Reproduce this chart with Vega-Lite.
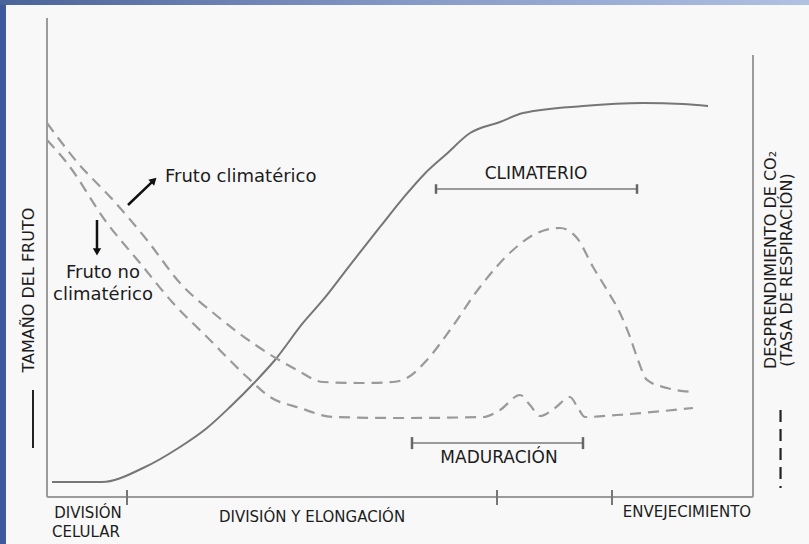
{
  "$schema": "https://vega.github.io/schema/vega-lite/v6.json",
  "width": 706,
  "height": 479,
  "autosize": {"type": "none"},
  "padding": {"left": 47, "top": 18, "right": 56, "bottom": 47},
  "background": "#f8f8f8",
  "config": {
    "view": {"stroke": null},
    "font": "DejaVu Sans",
    "text": {"font": "DejaVu Sans", "color": "#1c1c1c", "baseline": "middle", "align": "center"}
  },
  "data": {"values": [{"item": "annotation"}]},
  "datasets": {
    "curves": [
      {"series": "Tamaño del fruto", "t": 0.71, "v": 3.13},
      {"series": "Tamaño del fruto", "t": 7.79, "v": 3.13},
      {"series": "Tamaño del fruto", "t": 13.6, "v": 6.05},
      {"series": "Tamaño del fruto", "t": 18.84, "v": 10.44},
      {"series": "Tamaño del fruto", "t": 22.66, "v": 14.41},
      {"series": "Tamaño del fruto", "t": 25.92, "v": 18.79},
      {"series": "Tamaño del fruto", "t": 29.46, "v": 24.01},
      {"series": "Tamaño del fruto", "t": 32.29, "v": 28.6},
      {"series": "Tamaño del fruto", "t": 36.26, "v": 36.33},
      {"series": "Tamaño del fruto", "t": 39.09, "v": 41.13},
      {"series": "Tamaño del fruto", "t": 42.92, "v": 48.43},
      {"series": "Tamaño del fruto", "t": 47.17, "v": 56.37},
      {"series": "Tamaño del fruto", "t": 50.5, "v": 62.5},
      {"series": "Tamaño del fruto", "t": 53.5, "v": 67.5},
      {"series": "Tamaño del fruto", "t": 56.5, "v": 71.5},
      {"series": "Tamaño del fruto", "t": 59.92, "v": 75.99},
      {"series": "Tamaño del fruto", "t": 64.16, "v": 78.29},
      {"series": "Tamaño del fruto", "t": 67.42, "v": 80.17},
      {"series": "Tamaño del fruto", "t": 75.92, "v": 81.63},
      {"series": "Tamaño del fruto", "t": 84.42, "v": 82.25},
      {"series": "Tamaño del fruto", "t": 90.08, "v": 82.05},
      {"series": "Tamaño del fruto", "t": 93.63, "v": 81.63},
      {"series": "Fruto climatérico", "t": 0, "v": 78.08},
      {"series": "Fruto climatérico", "t": 4.25, "v": 69.94},
      {"series": "Fruto climatérico", "t": 9.35, "v": 62.0},
      {"series": "Fruto climatérico", "t": 14.16, "v": 53.65},
      {"series": "Fruto climatérico", "t": 18.84, "v": 44.68},
      {"series": "Fruto climatérico", "t": 24.08, "v": 37.79},
      {"series": "Fruto climatérico", "t": 29.75, "v": 31.52},
      {"series": "Fruto climatérico", "t": 35.41, "v": 26.51},
      {"series": "Fruto climatérico", "t": 39.09, "v": 24.01},
      {"series": "Fruto climatérico", "t": 44.33, "v": 23.8},
      {"series": "Fruto climatérico", "t": 49.01, "v": 24.01},
      {"series": "Fruto climatérico", "t": 50.99, "v": 24.84},
      {"series": "Fruto climatérico", "t": 53.82, "v": 28.6},
      {"series": "Fruto climatérico", "t": 57.08, "v": 34.86},
      {"series": "Fruto climatérico", "t": 61.33, "v": 43.84},
      {"series": "Fruto climatérico", "t": 66.01, "v": 51.57},
      {"series": "Fruto climatérico", "t": 69.41, "v": 55.11},
      {"series": "Fruto climatérico", "t": 72.66, "v": 56.16},
      {"series": "Fruto climatérico", "t": 75.07, "v": 54.07},
      {"series": "Fruto climatérico", "t": 77.34, "v": 48.02},
      {"series": "Fruto climatérico", "t": 79.32, "v": 43.22},
      {"series": "Fruto climatérico", "t": 81.16, "v": 38.41},
      {"series": "Fruto climatérico", "t": 82.58, "v": 33.4},
      {"series": "Fruto climatérico", "t": 83.71, "v": 28.6},
      {"series": "Fruto climatérico", "t": 84.99, "v": 24.43},
      {"series": "Fruto climatérico", "t": 87.82, "v": 22.76},
      {"series": "Fruto climatérico", "t": 91.5, "v": 21.92},
      {"series": "Fruto no climatérico", "t": 0, "v": 74.53},
      {"series": "Fruto no climatérico", "t": 2.83, "v": 69.73},
      {"series": "Fruto no climatérico", "t": 8.5, "v": 57.2},
      {"series": "Fruto no climatérico", "t": 13.17, "v": 48.85},
      {"series": "Fruto no climatérico", "t": 17.85, "v": 40.5},
      {"series": "Fruto no climatérico", "t": 22.66, "v": 33.4},
      {"series": "Fruto no climatérico", "t": 28.33, "v": 25.05},
      {"series": "Fruto no climatérico", "t": 31.59, "v": 20.88},
      {"series": "Fruto no climatérico", "t": 35.84, "v": 18.58},
      {"series": "Fruto no climatérico", "t": 40.51, "v": 16.7},
      {"series": "Fruto no climatérico", "t": 50.0, "v": 16.49},
      {"series": "Fruto no climatérico", "t": 61.76, "v": 16.7},
      {"series": "Fruto no climatérico", "t": 64.16, "v": 18.16},
      {"series": "Fruto no climatérico", "t": 67.0, "v": 21.29},
      {"series": "Fruto no climatérico", "t": 68.41, "v": 19.21},
      {"series": "Fruto no climatérico", "t": 69.83, "v": 16.91},
      {"series": "Fruto no climatérico", "t": 71.95, "v": 18.58},
      {"series": "Fruto no climatérico", "t": 74.08, "v": 20.88},
      {"series": "Fruto no climatérico", "t": 75.21, "v": 18.58},
      {"series": "Fruto no climatérico", "t": 76.2, "v": 16.7},
      {"series": "Fruto no climatérico", "t": 80.74, "v": 17.12},
      {"series": "Fruto no climatérico", "t": 91.5, "v": 18.58}
    ],
    "stages": [
      {"boundary": 11.33},
      {"boundary": 63.74},
      {"boundary": 80.03}
    ]
  },
  "layer": [
    {
      "mark": {"type": "rect", "color": "#40599a"},
      "encoding": {
        "x": {"datum": -6.66, "type": "quantitative", "scale": {"domain": [0, 100], "nice": false, "zero": false}, "axis": null},
        "x2": {"datum": -5.81},
        "y": {"datum": 103.8, "type": "quantitative", "scale": {"domain": [0, 100], "nice": false, "zero": false}, "axis": null},
        "y2": {"datum": -9.9}
      }
    },
    {
      "mark": {"type": "rect", "color": {"gradient": "linear", "x1": 0, "y1": 0, "x2": 1, "y2": 0, "stops": [{"offset": 0, "color": "#4a6399"}, {"offset": 0.5, "color": "#8599c6"}, {"offset": 1, "color": "#b0c1e2"}]}},
      "encoding": {
        "x": {"datum": -6.66, "type": "quantitative", "scale": {"domain": [0, 100], "nice": false, "zero": false}, "axis": null},
        "x2": {"datum": 107.95},
        "y": {"datum": 103.8, "type": "quantitative", "scale": {"domain": [0, 100], "nice": false, "zero": false}, "axis": null},
        "y2": {"datum": 102.71}
      }
    },
    {
      "data": {"name": "curves"},
      "transform": [{"filter": "datum.series === 'Tamaño del fruto'"}],
      "mark": {"type": "line", "interpolate": "monotone", "color": "#767676", "strokeWidth": 2},
      "encoding": {
        "x": {"field": "t", "type": "quantitative", "scale": {"domain": [0, 100], "nice": false, "zero": false}, "axis": null},
        "y": {"field": "v", "type": "quantitative", "scale": {"domain": [0, 100], "nice": false, "zero": false}, "axis": null}
      }
    },
    {
      "data": {"name": "curves"},
      "transform": [{"filter": "datum.series !== 'Tamaño del fruto'"}],
      "mark": {"type": "line", "interpolate": "monotone", "color": "#9a9a9a", "strokeWidth": 2.2, "strokeDash": [11, 7]},
      "encoding": {
        "x": {"field": "t", "type": "quantitative", "scale": {"domain": [0, 100], "nice": false, "zero": false}, "axis": null},
        "y": {"field": "v", "type": "quantitative", "scale": {"domain": [0, 100], "nice": false, "zero": false}, "axis": null},
        "detail": {"field": "series"}
      }
    },
    {
      "mark": {"type": "rule", "color": "#9b9b9b", "strokeWidth": 2},
      "encoding": {
        "x": {"datum": 0, "type": "quantitative", "scale": {"domain": [0, 100], "nice": false, "zero": false}, "axis": null},
        "y": {"datum": 0, "type": "quantitative", "scale": {"domain": [0, 100], "nice": false, "zero": false}, "axis": null},
        "y2": {"datum": 100}
      }
    },
    {
      "mark": {"type": "rule", "color": "#9b9b9b", "strokeWidth": 2},
      "encoding": {
        "x": {"datum": 0, "type": "quantitative", "scale": {"domain": [0, 100], "nice": false, "zero": false}, "axis": null},
        "x2": {"datum": 100},
        "y": {"datum": 0, "type": "quantitative", "scale": {"domain": [0, 100], "nice": false, "zero": false}, "axis": null}
      }
    },
    {
      "mark": {"type": "rule", "color": "#9b9b9b", "strokeWidth": 2},
      "encoding": {
        "x": {"datum": 100, "type": "quantitative", "scale": {"domain": [0, 100], "nice": false, "zero": false}, "axis": null},
        "y": {"datum": 0, "type": "quantitative", "scale": {"domain": [0, 100], "nice": false, "zero": false}, "axis": null},
        "y2": {"datum": 92.28}
      }
    },
    {
      "data": {"name": "stages"},
      "mark": {"type": "rule", "color": "#777777", "strokeWidth": 2},
      "encoding": {
        "x": {"field": "boundary", "type": "quantitative", "scale": {"domain": [0, 100], "nice": false, "zero": false}, "axis": null},
        "y": {"datum": -1.67, "type": "quantitative", "scale": {"domain": [0, 100], "nice": false, "zero": false}, "axis": null},
        "y2": {"datum": 1.46}
      }
    },
    {
      "mark": {"type": "rule", "color": "#9a9a9a", "strokeWidth": 2},
      "encoding": {
        "x": {"datum": 55.1, "type": "quantitative", "scale": {"domain": [0, 100], "nice": false, "zero": false}, "axis": null},
        "x2": {"datum": 83.57},
        "y": {"datum": 64.3, "type": "quantitative", "scale": {"domain": [0, 100], "nice": false, "zero": false}, "axis": null}
      }
    },
    {
      "mark": {"type": "rule", "color": "#666666", "strokeWidth": 2.5},
      "encoding": {
        "x": {"datum": 55.1, "type": "quantitative", "scale": {"domain": [0, 100], "nice": false, "zero": false}, "axis": null},
        "y": {"datum": 63.3, "type": "quantitative", "scale": {"domain": [0, 100], "nice": false, "zero": false}, "axis": null},
        "y2": {"datum": 65.3}
      }
    },
    {
      "mark": {"type": "rule", "color": "#666666", "strokeWidth": 2.5},
      "encoding": {
        "x": {"datum": 83.57, "type": "quantitative", "scale": {"domain": [0, 100], "nice": false, "zero": false}, "axis": null},
        "y": {"datum": 63.3, "type": "quantitative", "scale": {"domain": [0, 100], "nice": false, "zero": false}, "axis": null},
        "y2": {"datum": 65.3}
      }
    },
    {
      "mark": {"type": "rule", "color": "#9a9a9a", "strokeWidth": 2},
      "encoding": {
        "x": {"datum": 51.7, "type": "quantitative", "scale": {"domain": [0, 100], "nice": false, "zero": false}, "axis": null},
        "x2": {"datum": 75.92},
        "y": {"datum": 11.27, "type": "quantitative", "scale": {"domain": [0, 100], "nice": false, "zero": false}, "axis": null}
      }
    },
    {
      "mark": {"type": "rule", "color": "#666666", "strokeWidth": 2.5},
      "encoding": {
        "x": {"datum": 51.7, "type": "quantitative", "scale": {"domain": [0, 100], "nice": false, "zero": false}, "axis": null},
        "y": {"datum": 10.0, "type": "quantitative", "scale": {"domain": [0, 100], "nice": false, "zero": false}, "axis": null},
        "y2": {"datum": 12.5}
      }
    },
    {
      "mark": {"type": "rule", "color": "#666666", "strokeWidth": 2.5},
      "encoding": {
        "x": {"datum": 75.92, "type": "quantitative", "scale": {"domain": [0, 100], "nice": false, "zero": false}, "axis": null},
        "y": {"datum": 10.0, "type": "quantitative", "scale": {"domain": [0, 100], "nice": false, "zero": false}, "axis": null},
        "y2": {"datum": 12.5}
      }
    },
    {
      "mark": {"type": "rule", "color": "#111111", "strokeWidth": 2.5},
      "encoding": {
        "x": {"datum": 11.47, "type": "quantitative", "scale": {"domain": [0, 100], "nice": false, "zero": false}, "axis": null},
        "x2": {"datum": 14.9},
        "y": {"datum": 60.96, "type": "quantitative", "scale": {"domain": [0, 100], "nice": false, "zero": false}, "axis": null},
        "y2": {"datum": 65.8}
      }
    },
    {
      "mark": {"type": "point", "shape": "triangle", "filled": true, "color": "#111111", "size": 70, "angle": 46, "opacity": 1},
      "encoding": {
        "x": {"datum": 15.01, "type": "quantitative", "scale": {"domain": [0, 100], "nice": false, "zero": false}, "axis": null},
        "y": {"datum": 65.97, "type": "quantitative", "scale": {"domain": [0, 100], "nice": false, "zero": false}, "axis": null}
      }
    },
    {
      "mark": {"type": "rule", "color": "#111111", "strokeWidth": 2.5},
      "encoding": {
        "x": {"datum": 7.08, "type": "quantitative", "scale": {"domain": [0, 100], "nice": false, "zero": false}, "axis": null},
        "y": {"datum": 57.83, "type": "quantitative", "scale": {"domain": [0, 100], "nice": false, "zero": false}, "axis": null},
        "y2": {"datum": 51.6}
      }
    },
    {
      "mark": {"type": "point", "shape": "triangle-down", "filled": true, "color": "#111111", "size": 70, "opacity": 1},
      "encoding": {
        "x": {"datum": 7.08, "type": "quantitative", "scale": {"domain": [0, 100], "nice": false, "zero": false}, "axis": null},
        "y": {"datum": 51.15, "type": "quantitative", "scale": {"domain": [0, 100], "nice": false, "zero": false}, "axis": null}
      }
    },
    {
      "mark": {"type": "rule", "color": "#222222", "strokeWidth": 2},
      "encoding": {
        "x": {"datum": -1.98, "type": "quantitative", "scale": {"domain": [0, 100], "nice": false, "zero": false}, "axis": null},
        "y": {"datum": 22.34, "type": "quantitative", "scale": {"domain": [0, 100], "nice": false, "zero": false}, "axis": null},
        "y2": {"datum": 10.23}
      }
    },
    {
      "mark": {"type": "rule", "color": "#222222", "strokeWidth": 2.2, "strokeDash": [12, 7]},
      "encoding": {
        "x": {"datum": 103.9, "type": "quantitative", "scale": {"domain": [0, 100], "nice": false, "zero": false}, "axis": null},
        "y": {"datum": 18.16, "type": "quantitative", "scale": {"domain": [0, 100], "nice": false, "zero": false}, "axis": null},
        "y2": {"datum": 1.88}
      }
    },
    {
      "mark": {"type": "text", "text": "TAMAÑO DEL FRUTO", "fontSize": 16, "angle": 270},
      "encoding": {
        "x": {"datum": -2.55, "type": "quantitative", "scale": {"domain": [0, 100], "nice": false, "zero": false}, "axis": null},
        "y": {"datum": 43.2, "type": "quantitative", "scale": {"domain": [0, 100], "nice": false, "zero": false}, "axis": null}
      }
    },
    {
      "mark": {"type": "text", "text": "DESPRENDIMIENTO DE CO₂", "fontSize": 16, "angle": 270},
      "encoding": {
        "x": {"datum": 102.55, "type": "quantitative", "scale": {"domain": [0, 100], "nice": false, "zero": false}, "axis": null},
        "y": {"datum": 49.48, "type": "quantitative", "scale": {"domain": [0, 100], "nice": false, "zero": false}, "axis": null}
      }
    },
    {
      "mark": {"type": "text", "text": "(TASA DE RESPIRACIÓN)", "fontSize": 16, "angle": 270},
      "encoding": {
        "x": {"datum": 104.82, "type": "quantitative", "scale": {"domain": [0, 100], "nice": false, "zero": false}, "axis": null},
        "y": {"datum": 47.39, "type": "quantitative", "scale": {"domain": [0, 100], "nice": false, "zero": false}, "axis": null}
      }
    },
    {
      "mark": {"type": "text", "text": "Fruto climatérico", "fontSize": 18, "align": "left"},
      "encoding": {
        "x": {"datum": 16.71, "type": "quantitative", "scale": {"domain": [0, 100], "nice": false, "zero": false}, "axis": null},
        "y": {"datum": 66.81, "type": "quantitative", "scale": {"domain": [0, 100], "nice": false, "zero": false}, "axis": null}
      }
    },
    {
      "mark": {"type": "text", "text": "Fruto no", "fontSize": 18},
      "encoding": {
        "x": {"datum": 7.93, "type": "quantitative", "scale": {"domain": [0, 100], "nice": false, "zero": false}, "axis": null},
        "y": {"datum": 46.76, "type": "quantitative", "scale": {"domain": [0, 100], "nice": false, "zero": false}, "axis": null}
      }
    },
    {
      "mark": {"type": "text", "text": "climatérico", "fontSize": 18},
      "encoding": {
        "x": {"datum": 7.93, "type": "quantitative", "scale": {"domain": [0, 100], "nice": false, "zero": false}, "axis": null},
        "y": {"datum": 42.17, "type": "quantitative", "scale": {"domain": [0, 100], "nice": false, "zero": false}, "axis": null}
      }
    },
    {
      "mark": {"type": "text", "text": "CLIMATERIO", "fontSize": 17},
      "encoding": {
        "x": {"datum": 69.26, "type": "quantitative", "scale": {"domain": [0, 100], "nice": false, "zero": false}, "axis": null},
        "y": {"datum": 67.43, "type": "quantitative", "scale": {"domain": [0, 100], "nice": false, "zero": false}, "axis": null}
      }
    },
    {
      "mark": {"type": "text", "text": "MADURACIÓN", "fontSize": 17},
      "encoding": {
        "x": {"datum": 64.02, "type": "quantitative", "scale": {"domain": [0, 100], "nice": false, "zero": false}, "axis": null},
        "y": {"datum": 8.14, "type": "quantitative", "scale": {"domain": [0, 100], "nice": false, "zero": false}, "axis": null}
      }
    },
    {
      "mark": {"type": "text", "text": "DIVISIÓN", "fontSize": 15},
      "encoding": {
        "x": {"datum": 5.81, "type": "quantitative", "scale": {"domain": [0, 100], "nice": false, "zero": false}, "axis": null},
        "y": {"datum": -3.34, "type": "quantitative", "scale": {"domain": [0, 100], "nice": false, "zero": false}, "axis": null}
      }
    },
    {
      "mark": {"type": "text", "text": "CELULAR", "fontSize": 15},
      "encoding": {
        "x": {"datum": 5.52, "type": "quantitative", "scale": {"domain": [0, 100], "nice": false, "zero": false}, "axis": null},
        "y": {"datum": -7.31, "type": "quantitative", "scale": {"domain": [0, 100], "nice": false, "zero": false}, "axis": null}
      }
    },
    {
      "mark": {"type": "text", "text": "DIVISIÓN Y ELONGACIÓN", "fontSize": 15},
      "encoding": {
        "x": {"datum": 37.54, "type": "quantitative", "scale": {"domain": [0, 100], "nice": false, "zero": false}, "axis": null},
        "y": {"datum": -4.18, "type": "quantitative", "scale": {"domain": [0, 100], "nice": false, "zero": false}, "axis": null}
      }
    },
    {
      "mark": {"type": "text", "text": "ENVEJECIMIENTO", "fontSize": 15},
      "encoding": {
        "x": {"datum": 90.65, "type": "quantitative", "scale": {"domain": [0, 100], "nice": false, "zero": false}, "axis": null},
        "y": {"datum": -3.13, "type": "quantitative", "scale": {"domain": [0, 100], "nice": false, "zero": false}, "axis": null}
      }
    }
  ]
}
